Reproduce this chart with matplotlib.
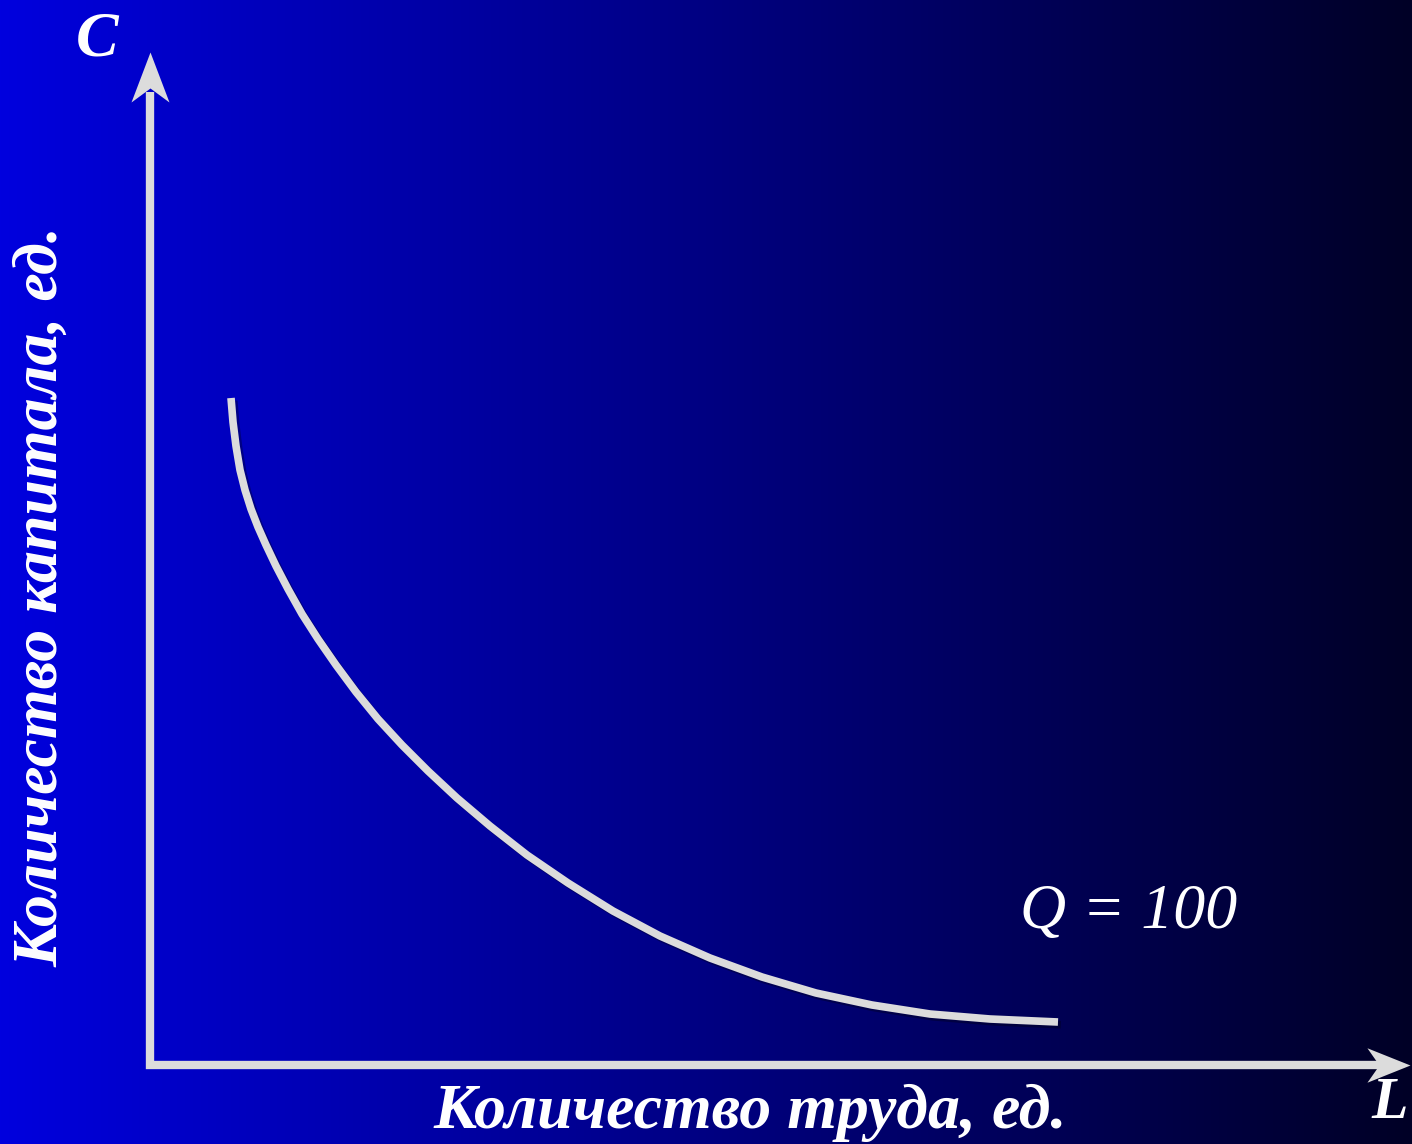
import matplotlib.pyplot as plt
import matplotlib.patheffects as pe
from matplotlib.path import Path
import numpy as np

# isoquant Q = 100 (labour L, capital C, arbitrary units)
labour = [0.81, 0.83, 0.86, 0.90, 0.95, 1.01, 1.08, 1.16, 1.26, 1.38, 1.52, 1.68,
          1.86, 2.06, 2.28, 2.52, 2.78, 3.07, 3.40, 3.77, 4.18, 4.63, 5.10, 5.60,
          6.12, 6.66, 7.22, 7.80, 8.40, 9.08]
capital = [6.67, 6.43, 6.19, 5.95, 5.75, 5.56, 5.38, 5.20, 4.99, 4.76, 4.51, 4.26,
           4.00, 3.73, 3.46, 3.20, 2.94, 2.67, 2.39, 2.10, 1.82, 1.54, 1.29, 1.07,
           0.88, 0.72, 0.60, 0.51, 0.46, 0.43]

x_name = "Количество труда, ед."
y_name = "Количество капитала, ед."
x_sym = "L"
y_sym = "C"
curve_label = "Q = 100"

L_max = 12.6
C_max = 10.13

grey = "#dcdcdc"
serif = ["Liberation Serif", "DejaVu Serif"]

fig = plt.figure(figsize=(14.12, 11.44), dpi=100)
ax = fig.add_axes([0, 0, 1, 1])
x0, x1, y0, y1 = -1.5, 12.62, -0.79, 10.65

# background gradient, bright blue to almost black
grad = np.linspace(0, 1, 512)
left = np.array([0, 0, 222]) / 255
right = np.array([0, 0, 38]) / 255
img = left[None, :] * (1 - grad[:, None]) + right[None, :] * grad[:, None]
ax.imshow(img[None, :, :], extent=[x0, x1, y0, y1], aspect="auto", zorder=0)
ax.set_xlim(x0, x1)
ax.set_ylim(y0, y1)
ax.axis("off")

# notched arrow heads, tip at the marker origin
up_head = Path([(0, 0), (0.38, -1), (0, -0.72), (-0.38, -1), (0, 0)],
               [Path.MOVETO, Path.LINETO, Path.LINETO, Path.LINETO, Path.CLOSEPOLY])
right_head = Path([(0, 0), (-1, -0.4), (-0.72, 0), (-1, 0.4), (0, 0)],
                  [Path.MOVETO, Path.LINETO, Path.LINETO, Path.LINETO, Path.CLOSEPOLY])

ax.plot([0, 0, L_max - 0.3], [C_max - 0.4, 0, 0], color=grey, lw=6,
        solid_joinstyle="miter", solid_capstyle="butt", zorder=3)
ax.plot([0], [C_max], marker=up_head, ms=72, color=grey, mew=0, zorder=3)
ax.plot([L_max], [0], marker=right_head, ms=62, color=grey, mew=0, zorder=3)

# the isoquant
ax.plot(labour, capital, color=grey, lw=5.5, solid_capstyle="butt",
        solid_joinstyle="round", zorder=4,
        path_effects=[pe.SimpleLineShadow(offset=(2, -2), shadow_color="black", alpha=0.3),
                      pe.Normal()])

ax.text(-0.53, 10.25, y_sym, color="white", fontsize=46, family=serif,
        style="italic", weight="bold", ha="center", va="center")
ax.text(12.4, -0.39, x_sym, color="white", fontsize=43, family=serif,
        style="italic", weight="bold", ha="center", va="center")
ax.text(8.70, 1.37, curve_label, color="white", fontsize=46, family=serif,
        style="italic", ha="left", va="baseline")
ax.text(6.0, -0.63, x_name, color="white", fontsize=46, family=serif,
        style="italic", weight="bold", ha="center", va="baseline")
ax.text(-1.08, 4.68, y_name, color="white", fontsize=46, family=serif,
        style="italic", weight="bold", ha="center", va="center", rotation=90)

fig.savefig("out.png", dpi=100)
